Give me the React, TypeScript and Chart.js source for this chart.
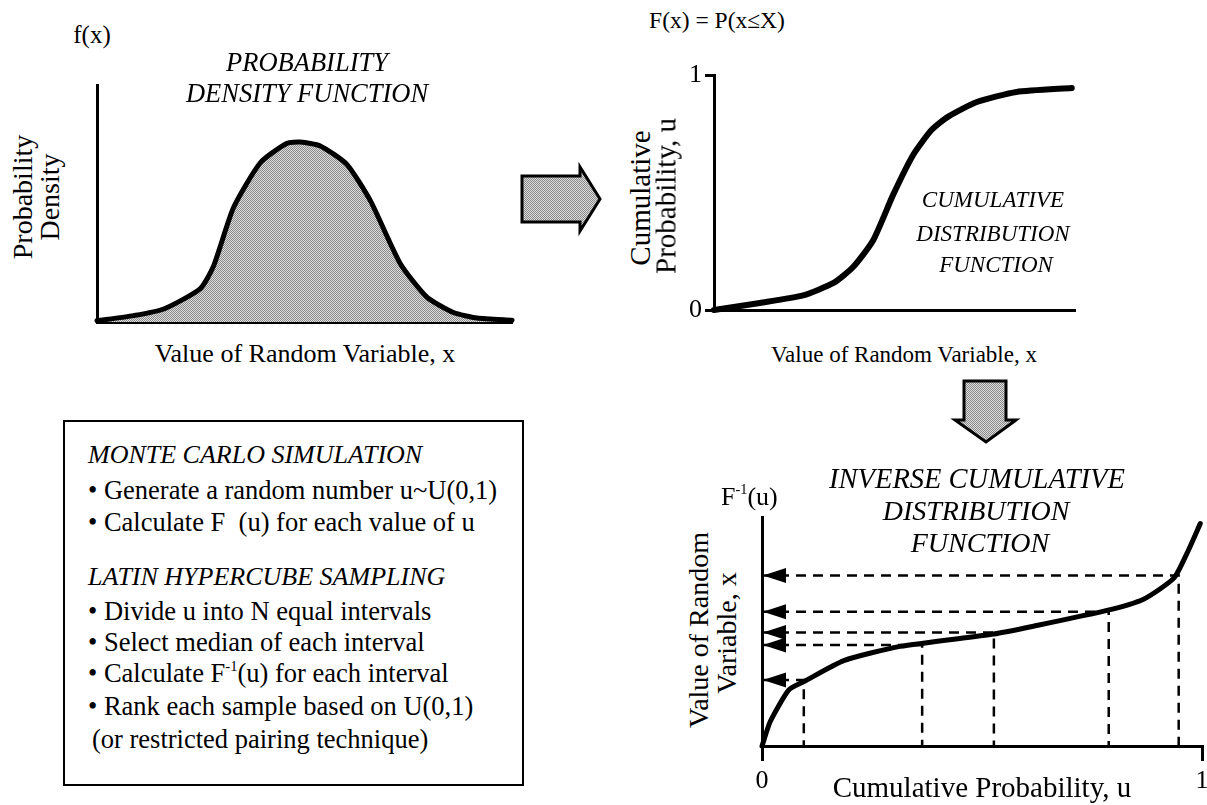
import React, { useEffect, useRef } from "react";
import { Chart, registerables } from "chart.js";
Chart.register(...registerables);

const SERIF = "'Liberation Serif', 'Times New Roman', Times, serif";

// ---- Probability density function ----
const pdfX = [0, 0.088, 0.161, 0.249, 0.281, 0.329, 0.394, 0.458, 0.49, 0.538, 0.602, 0.659, 0.731, 0.795, 0.859, 0.916, 1.0];
const pdfY = [0.005, 0.027, 0.055, 0.141, 0.237, 0.483, 0.673, 0.754, 0.759, 0.743, 0.665, 0.511, 0.246, 0.105, 0.04, 0.017, 0.007];

// ---- Cumulative distribution function ----
const cdfX = [0, 0.127, 0.247, 0.331, 0.386, 0.441, 0.497, 0.552, 0.603, 0.649, 0.728, 0.838, 0.991];
const cdfY = [0, 0.03, 0.062, 0.115, 0.184, 0.297, 0.493, 0.661, 0.767, 0.823, 0.885, 0.928, 0.945];
const cdfTicks = [0, 1];

// ---- Inverse cumulative distribution function ----
const invU = [0, 0.019, 0.061, 0.095, 0.186, 0.314, 0.527, 0.617, 0.784, 0.867, 0.936, 0.966, 0.996];
const invV = [0, 0.108, 0.245, 0.281, 0.373, 0.435, 0.489, 0.523, 0.592, 0.641, 0.733, 0.842, 0.971];
const invTicks = [0, 1];
const sampleU = [0.095, 0.364, 0.527, 0.788, 0.947];
const sampleV = [0.288, 0.441, 0.496, 0.586, 0.745];

const STIP_LIGHT = "#dcdcdc";
const STIP_DARK = "#8a8a8a";

function stipple() {
  const c = document.createElement("canvas");
  c.width = 2;
  c.height = 2;
  const g = c.getContext("2d")!;
  g.fillStyle = STIP_LIGHT;
  g.fillRect(0, 0, 2, 2);
  g.fillStyle = STIP_DARK;
  g.fillRect(0, 0, 1, 1);
  g.fillRect(1, 1, 1, 1);
  return g.createPattern(c, "repeat");
}

const zeroPad = (s: any) => {
  s.paddingLeft = 0;
  s.paddingRight = 0;
  s.paddingTop = 0;
  s.paddingBottom = 0;
};

const plainAxis = (horizontal: boolean) => ({
  type: "linear",
  min: 0,
  max: 1,
  ticks: { display: false },
  grid: { display: false, drawTicks: false },
  border: { display: true, color: "#000", width: 3 },
  afterFit: (s: any) => {
    if (horizontal) s.height = 0;
    else s.width = 0;
    zeroPad(s);
  },
});

const tickAxis = (horizontal: boolean, ticks: number[], size: number, tickLen: number, pad: number) => ({
  type: "linear",
  min: 0,
  max: 1,
  afterBuildTicks: (s: any) => {
    s.ticks = ticks.map((v) => ({ value: v }));
  },
  ticks: {
    display: true,
    color: "#000",
    padding: pad,
    font: { family: SERIF, size: 26 },
  },
  grid: {
    display: true,
    drawOnChartArea: false,
    drawTicks: true,
    tickLength: tickLen,
    tickWidth: 3,
    tickColor: "#000",
    color: "#000",
    lineWidth: 3,
  },
  border: { display: true, color: "#000", width: 3 },
  afterFit: (s: any) => {
    if (horizontal) s.height = size;
    else s.width = size;
    zeroPad(s);
  },
});

const baseOptions = (padding: any) => ({
  animation: false,
  responsive: false,
  events: [],
  layout: { padding },
  plugins: { legend: { display: false }, tooltip: { enabled: false } },
});

const curve = (xs: number[], ys: number[], width: number) => ({
  data: xs.map((x, i) => ({ x, y: ys[i] })),
  borderColor: "#000",
  borderWidth: width,
  pointRadius: 0,
  tension: 0.2,
  clip: false,
  fill: false,
  borderJoinStyle: "round",
  borderCapStyle: "round",
});

const pdfConfig = () => ({
  type: "line",
  data: {
    datasets: [
      {
        ...curve(pdfX, pdfY, 5),
        fill: "origin",
        backgroundColor: stipple(),
      },
    ],
  },
  options: {
    ...baseOptions({ left: 10, right: 10, top: 10, bottom: 10 }),
    scales: { x: plainAxis(true), y: plainAxis(false) },
  },
});

const cdfConfig = () => ({
  type: "line",
  data: { datasets: [curve(cdfX, cdfY, 6)] },
  options: {
    ...baseOptions({ left: 0, right: 10, top: 10, bottom: 10 }),
    scales: { x: plainAxis(true), y: tickAxis(false, cdfTicks, 40, 9, 3) },
  },
});

const arrowHeads = {
  id: "arrowHeads",
  afterDatasetsDraw(chart: any) {
    const { ctx, scales } = chart;
    const x = scales.x;
    const y = scales.y;
    ctx.save();
    ctx.fillStyle = "#000";
    for (const v of sampleV) {
      const px = x.getPixelForValue(0) + 1;
      const py = y.getPixelForValue(v);
      ctx.beginPath();
      ctx.moveTo(px, py);
      ctx.lineTo(px + 23, py - 7.5);
      ctx.lineTo(px + 23, py + 7.5);
      ctx.closePath();
      ctx.fill();
    }
    ctx.restore();
  },
};

const invConfig = () => ({
  type: "line",
  data: {
    datasets: [
      curve(invU, invV, 5),
      ...sampleU.map((u, i) => ({
        data: [
          { x: 0, y: sampleV[i] },
          { x: u, y: sampleV[i] },
          { x: u, y: 0 },
        ],
        borderColor: "#000",
        borderWidth: 2.5,
        borderDash: [10, 7],
        pointRadius: 0,
        tension: 0,
        fill: false,
        clip: false,
      })),
    ],
  },
  options: {
    ...baseOptions({ left: 10, right: 5, top: 10, bottom: 0 }),
    scales: {
      x: tickAxis(true, invTicks, 45, 15, 5),
      y: plainAxis(false),
    },
  },
  plugins: [arrowHeads],
});

function ChartCanvas({ left, top, width, height, make }: { left: number; top: number; width: number; height: number; make: () => any }) {
  const ref = useRef<HTMLCanvasElement>(null);
  useEffect(() => {
    const chart = new Chart(ref.current as HTMLCanvasElement, make());
    return () => chart.destroy();
  }, []);
  return <canvas ref={ref} width={width} height={height} style={{ position: "absolute", left, top, width, height }} />;
}

type TP = { x: number; y: number; size: number; italic?: boolean; rotate?: boolean; left?: boolean; children: React.ReactNode };
function T({ x, y, size, italic, rotate, left, children }: TP) {
  const tf = left ? "translate(0,-50%)" : "translate(-50%,-50%)" + (rotate ? " rotate(-90deg)" : "");
  return (
    <div
      style={{
        position: "absolute",
        left: x,
        top: y,
        transform: tf,
        fontFamily: SERIF,
        fontSize: size,
        fontStyle: italic ? "italic" : "normal",
        lineHeight: 1,
        whiteSpace: "pre",
        color: "#000",
      }}
    >
      {children}
    </div>
  );
}

const Sup = ({ children }: { children: React.ReactNode }) => (
  <span style={{ fontSize: "0.55em", position: "relative", top: "-0.75em" }}>{children}</span>
);

export default function App() {
  return (
    <div style={{ position: "absolute", left: 0, top: 0, width: 1207, height: 805, background: "#fff", overflow: "hidden" }}>
      <svg width={1207} height={805} style={{ position: "absolute", left: 0, top: 0 }}>
        <defs>
          <pattern id="stip" width="2" height="2" patternUnits="userSpaceOnUse">
            <rect width="2" height="2" fill={STIP_LIGHT} />
            <rect width="1" height="1" fill={STIP_DARK} />
            <rect x="1" y="1" width="1" height="1" fill={STIP_DARK} />
          </pattern>
        </defs>
        <polygon points="522,176 580,176 580,167 600,199 580,231 580,222 522,222" fill="url(#stip)" stroke="#000" strokeWidth={3} />
        <polygon points="964,381 1006,381 1006,420 1016,420 986,442 955,420 964,420" fill="url(#stip)" stroke="#000" strokeWidth={3} />
      </svg>

      <ChartCanvas left={87} top={75} width={435} height={257} make={pdfConfig} />
      <ChartCanvas left={674} top={65} width={411} height={255} make={cdfConfig} />
      <ChartCanvas left={752} top={507} width={455} height={284} make={invConfig} />

      {/* PDF texts */}
      <T x={92} y={34} size={25}>f(x)</T>
      <T x={307} y={62} size={26.5} italic>PROBABILITY</T>
      <T x={307} y={93} size={26.5} italic>DENSITY FUNCTION</T>
      <T x={23} y={197} size={28} rotate>Probability</T>
      <T x={50} y={197} size={28} rotate>Density</T>
      <T x={305} y={354} size={26}>Value of Random Variable, x</T>

      {/* CDF texts */}
      <T x={717} y={21} size={23.5}>F(x) = P(x≤X)</T>
      <T x={640} y={198} size={29} rotate>Cumulative</T>
      <T x={666} y={196} size={29} rotate>Probability, u</T>
      <T x={993} y={199} size={23} italic>CUMULATIVE</T>
      <T x={993} y={233} size={23} italic>DISTRIBUTION</T>
      <T x={996} y={264} size={23} italic>FUNCTION</T>
      <T x={904} y={354} size={23}>Value of Random Variable, x</T>

      {/* Inverse texts */}
      <T x={721} y={497} size={26} left>
        F<Sup>-1</Sup>(u)
      </T>
      <T x={977} y={479} size={28.5} italic>INVERSE CUMULATIVE</T>
      <T x={976} y={511} size={28} italic>DISTRIBUTION</T>
      <T x={980} y={543} size={28} italic>FUNCTION</T>
      <T x={699} y={630} size={28} rotate>Value of Random</T>
      <T x={727} y={633} size={28} rotate>Variable, x</T>
      <T x={982} y={787} size={29}>Cumulative Probability, u</T>

      {/* Text box */}
      <div style={{ position: "absolute", left: 63, top: 420, width: 524 - 63, height: 786 - 420, border: "2.5px solid #000", boxSizing: "border-box" }} />
      <T x={88} y={455} size={26} italic left>MONTE CARLO SIMULATION</T>
      <T x={88} y={490} size={26.5} left>• Generate a random number u~U(0,1)</T>
      <T x={88} y={522} size={26.5} left>• Calculate F  (u) for each value of u</T>
      <T x={88} y={577} size={26} italic left>LATIN HYPERCUBE SAMPLING</T>
      <T x={88} y={611} size={26.5} left>• Divide u into N equal intervals</T>
      <T x={88} y={642} size={26.5} left>• Select median of each interval</T>
      <T x={88} y={673} size={26.5} left>
        • Calculate F<Sup>-1</Sup>(u) for each interval
      </T>
      <T x={88} y={706} size={26.5} left>• Rank each sample based on U(0,1)</T>
      <T x={92} y={739} size={26.5} left>(or restricted pairing technique)</T>
    </div>
  );
}
